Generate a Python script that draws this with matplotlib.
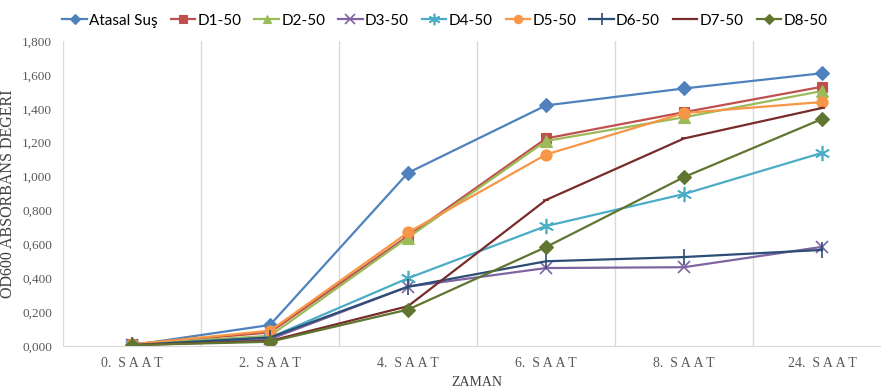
import matplotlib
matplotlib.use('Agg')
import matplotlib.pyplot as plt

# Time points and OD600 readings per strain
zaman = ["0. SAAT", "2. SAAT", "4. SAAT", "6. SAAT", "8. SAAT", "24. SAAT"]

atasal = [0.005, 0.124, 1.022, 1.420, 1.520, 1.610]
d1_50 = [0.010, 0.080, 0.650, 1.225, 1.380, 1.530]
d2_50 = [0.010, 0.060, 0.640, 1.210, 1.350, 1.505]
d3_50 = [0.005, 0.040, 0.350, 0.460, 0.465, 0.585]
d4_50 = [0.005, 0.050, 0.400, 0.708, 0.897, 1.140]
d5_50 = [0.010, 0.090, 0.670, 1.130, 1.375, 1.440]
d6_50 = [0.005, 0.050, 0.350, 0.500, 0.525, 0.567]
d7_50 = [0.005, 0.030, 0.235, 0.862, 1.225, 1.405]
d8_50 = [0.005, 0.025, 0.215, 0.584, 0.997, 1.340]

series = [
    ("Atasal Suş", atasal, '#4F81BD', 'D', 7),
    ("D1-50", d1_50, '#C0504D', 's', 7),
    ("D2-50", d2_50, '#9BBB59', '^', 8),
    ("D3-50", d3_50, '#8064A2', 'x', 9),
    ("D4-50", d4_50, '#4BACC6', (6, 2, 0), 11),
    ("D5-50", d5_50, '#F79646', 'o', 8),
    ("D6-50", d6_50, '#2C4D75', '|', 11),
    ("D7-50", d7_50, '#772C2A', '_', 5),
    ("D8-50", d8_50, '#5F7530', 'D', 7),
]

serif = ['Liberation Serif', 'DejaVu Serif']

fig = plt.figure(figsize=(8.81, 3.87), dpi=100)
ax = fig.add_axes([0.0715, 0.106, 0.94, 0.788])

x = list(range(len(zaman)))
for name, vals, col, mk, ms in series:
    mew = 1.2 if mk in ('x', '|', '_') or isinstance(mk, tuple) else 0.8
    ax.plot(x, vals, color=col, lw=1.6, marker=mk, markersize=ms,
            markeredgewidth=mew, markerfacecolor=col, markeredgecolor=col,
            label=name)

ax.set_xlim(-0.5, 5.5)
ax.set_ylim(0, 1.8)
ax.set_yticks([i * 0.2 for i in range(10)])
ax.set_yticklabels([f"{i * 0.2:.3f}".replace('.', ',') for i in range(10)],
                   family=serif, fontsize=9.5, color='#595959')
ax.set_xticks(x)
# letter-spaced category labels
ax.set_xticklabels([z.replace('SAAT', 'S\u2009A\u2009A\u2009T').replace(' S', '  S')
                    for z in zaman],
                   family=serif, fontsize=10, color='#595959')
ax.tick_params(length=0, pad=8)

# vertical separators between categories
for b in [-0.5, 0.5, 1.5, 2.5, 3.5, 4.5]:
    ax.axvline(b, color='#D9D9D9', lw=1, zorder=0)

for s in ['top', 'right', 'left']:
    ax.spines[s].set_visible(False)
ax.spines['bottom'].set_color('#D9D9D9')

ax.set_ylabel("OD600 ABSORBANS DEĞERİ", family=serif, fontsize=11.5,
              color='#404040', labelpad=4)
ax.set_xlabel("ZAMAN", family=serif, fontsize=10, color='#404040', labelpad=4)

fig.legend(loc='upper center', bbox_to_anchor=(0.505, 1.0), ncol=9,
           frameon=False, handlelength=1.6, handletextpad=0.15,
           columnspacing=0.85, markerscale=0.75,
           prop={'family': 'Lato', 'size': 11})

fig.savefig("out.png", dpi=100)
